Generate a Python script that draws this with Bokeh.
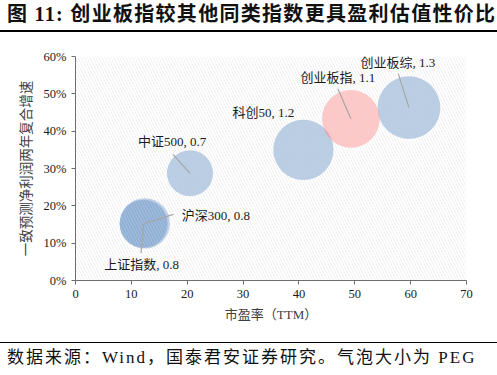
from bokeh.plotting import figure
from bokeh.models import (ColumnDataSource, BoxAnnotation, FixedTicker,
                          PrintfTickFormatter, Div)
from bokeh.layouts import column
from bokeh.core.properties import value
from bokeh.embed import file_html
from bokeh.resources import INLINE
import math

# ---- data ----
names = ["上证指数", "沪深300", "中证500", "科创50", "创业板指", "创业板综"]
pe_ttm = [12.2, 12.4, 20.5, 40.8, 49.3, 59.7]          # 市盈率（TTM）
growth = [15.2, 15.3, 28.7, 35.0, 43.3, 46.3]          # 一致预测净利润两年复合增速 (%)
peg = [0.76, 0.84, 0.7, 1.2, 1.1, 1.3]                 # 气泡大小 PEG
x_ticks = [0, 10, 20, 30, 40, 50, 60, 70]
y_ticks = [0, 10, 20, 30, 40, 50, 60]
title_text = "图 11: 创业板指较其他同类指数更具盈利估值性价比"
source_text = "数据来源：Wind，国泰君安证券研究。气泡大小为 PEG"

# ---- style / layout ----
PAGE_W = 497
TITLE_H = 32
W, H = PAGE_W, 310
FL, FR = 75, 466                  # frame left/right (px)
FT, FB = 56 - TITLE_H, 280 - TITLE_H   # frame top/bottom inside figure
SERIF_CJK = "'Liberation Serif', 'Noto Sans CJK SC'"
BLUE = "#4F81BD"
PINK = "#FF7C7C"
colors = [BLUE, BLUE, BLUE, BLUE, PINK, BLUE]
alphas = [0.42, 0.36, 0.4, 0.4, 0.42, 0.4]
R_SCALE = 27.5
# label offsets (px, up = positive) relative to bubble centre, leader-line ends
lab_dx = [-2, 37, -18, -40, -13, -11]
lab_dy = [-41, 8, 32, 37, 41, 45]
lab_align = ["center", "left", "center", "center", "center", "center"]
lead_dx = [-2.6, 28.7, -17, None, -13, -10.7]
lead_dy = [-29.4, 9, 19, None, 30, 34]

XMAX, YMAX = 70, 60
px_x = (FR - FL) / XMAX
px_y = (FB - FT) / YMAX

p = figure(width=W, height=H, output_backend="svg", toolbar_location=None,
           x_range=(0, XMAX), y_range=(0, YMAX),
           min_border_left=FL, min_border_right=W - FR,
           min_border_top=FT, min_border_bottom=H - FB, margin=0)
p.outline_line_color = None
p.xgrid.visible = False
p.ygrid.visible = False
p.background_fill_color = "white"

# hatched plot area
p.add_layout(BoxAnnotation(left=0, right=XMAX, bottom=0, top=YMAX,
                           fill_color=None, line_color=None,
                           hatch_pattern="\\", hatch_color="#e6e6e6",
                           hatch_scale=6, hatch_weight=0.6, level="underlay"))

src = ColumnDataSource(dict(
    x=pe_ttm, y=growth, size=[2 * R_SCALE * math.sqrt(v) for v in peg],
    color=colors, alpha=alphas,
    label=[f"{n}, {v:.1f}" for n, v in zip(names, peg)],
    dx=lab_dx, ndy=[-v for v in lab_dy], align=lab_align))

# bubbles: 沪深300 drawn under 上证指数
order = [1, 0, 2, 3, 5, 4]
src2 = ColumnDataSource({k: [src.data[k][i] for i in order] for k in src.data})
p.scatter("x", "y", size="size", source=src2, fill_color="color",
          fill_alpha="alpha", line_color=None,
          hatch_pattern="\\", hatch_color="white", hatch_alpha=0.3,
          hatch_scale=6, hatch_weight=0.6)

# leader lines
x0s, y0s, x1s, y1s = [], [], [], []
for i in range(len(names)):
    if lead_dx[i] is None:
        continue
    x0s.append(pe_ttm[i]); y0s.append(growth[i])
    x1s.append(pe_ttm[i] + lead_dx[i] / px_x)
    y1s.append(growth[i] + lead_dy[i] / px_y)
p.segment(x0s, y0s, x1s, y1s, line_color="#a6a6a6", line_width=1.2)

# data labels
p.text("x", "y", text="label", source=src, x_offset="dx", y_offset="ndy",
       text_align="align", text_baseline="middle",
       text_font=value(SERIF_CJK), text_font_size="13px", text_color="#1a1a1a")

# axes
for ax in (p.xaxis, p.yaxis):
    ax.axis_line_color = "#6e6e6e"
    ax.major_tick_line_color = "#6e6e6e"
    ax.major_tick_out = 4
    ax.major_tick_in = 0
    ax.minor_tick_line_color = None
    ax.major_label_text_font = SERIF_CJK
    ax.major_label_text_font_size = "12.5px"
    ax.major_label_text_color = "#1a1a1a"
    ax.axis_label_text_font = SERIF_CJK
    ax.axis_label_text_font_size = "13px"
    ax.axis_label_text_font_style = "normal"
    ax.axis_label_text_color = "#404040"
p.yaxis.axis_label_text_font_size = "13.5px"
p.xaxis.ticker = FixedTicker(ticks=x_ticks)
p.yaxis.ticker = FixedTicker(ticks=y_ticks)
p.yaxis.formatter = PrintfTickFormatter(format="%d%%")
p.xaxis.axis_label = "市盈率（TTM）"
p.yaxis.axis_label = "一致预测净利润两年复合增速"
p.xaxis.major_label_standoff = 5
p.yaxis.major_label_standoff = 5
p.xaxis.axis_label_standoff = 6
p.yaxis.axis_label_standoff = 7

title_div = Div(text=title_text, width=PAGE_W, height=TITLE_H, margin=0,
                styles={"font-family": SERIF_CJK, "font-size": "20px",
                        "font-weight": "bold", "color": "#111111",
                        "line-height": "29px", "padding-left": "7px",
                        "letter-spacing": "1.3px",
                        "border-bottom": "2px solid #000000",
                        "box-sizing": "border-box", "white-space": "nowrap"})
source_div = Div(text=source_text, width=PAGE_W, height=31, margin=0,
                 styles={"font-family": SERIF_CJK, "font-size": "17px",
                         "color": "#111111", "line-height": "29px",
                         "padding-left": "7px", "letter-spacing": "2px",
                         "border-top": "1.5px solid #000000",
                         "box-sizing": "border-box", "white-space": "nowrap"})

layout = column(title_div, p, source_div, spacing=0)
open("out.html", "w").write(file_html(layout, INLINE))
